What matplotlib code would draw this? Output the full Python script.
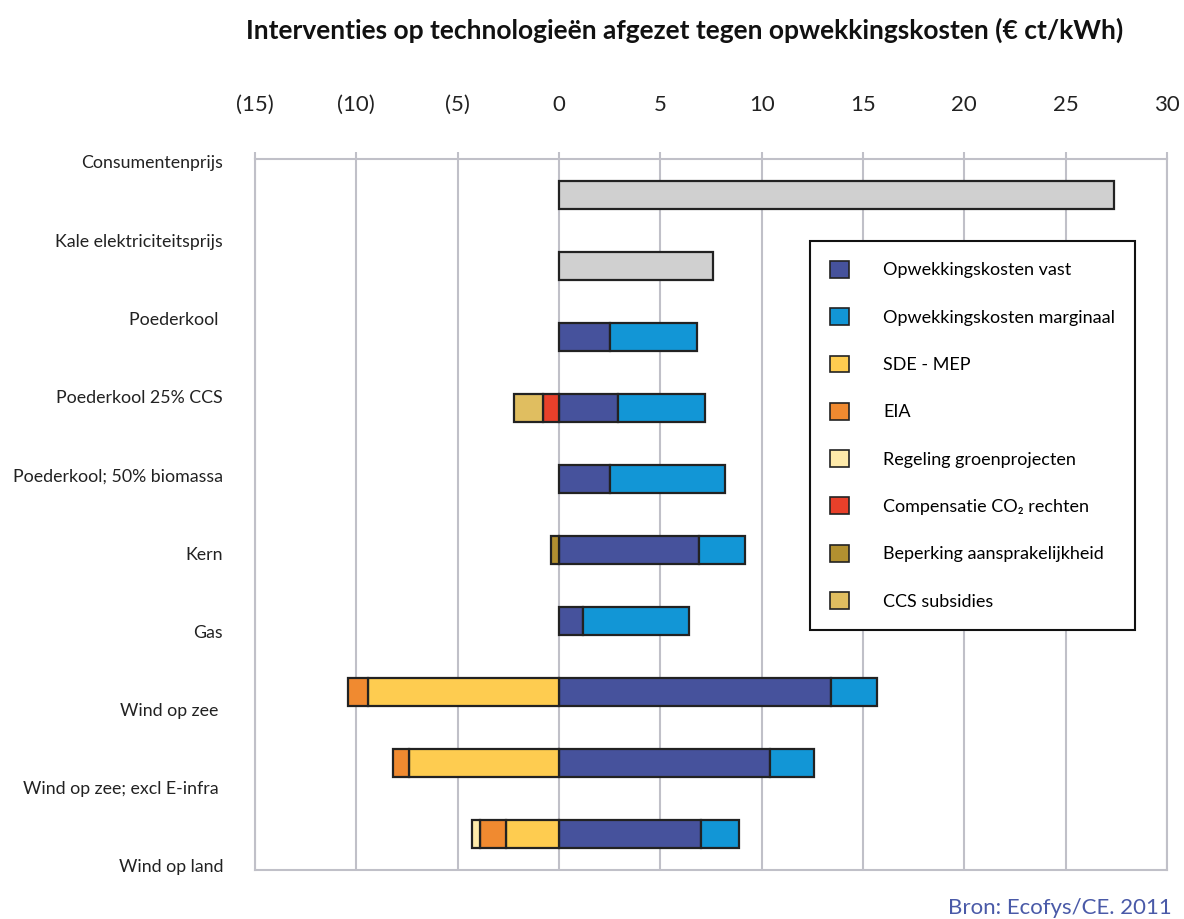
import matplotlib.pyplot as plt
from matplotlib.patches import Patch
import numpy as np

plt.rcParams['font.family'] = ['Lato', 'DejaVu Sans']

categories = ['Consumentenprijs', 'Kale elektriciteitsprijs', 'Poederkool ',
              'Poederkool 25% CCS', 'Poederkool; 50% biomassa', 'Kern', 'Gas',
              'Wind op zee ', 'Wind op zee; excl E-infra ', 'Wind op land']

prijs = [27.4, 7.6, 0, 0, 0, 0, 0, 0, 0, 0]
vast = [0, 0, 2.5, 2.9, 2.5, 6.9, 1.2, 13.4, 10.4, 7.0]
marginaal = [0, 0, 4.3, 4.3, 5.7, 2.3, 5.2, 2.3, 2.2, 1.9]

# negative side, magnitudes (stacked leftwards from 0)
sde = [0, 0, 0, 0, 0, 0, 0, 9.4, 7.4, 2.6]
eia = [0, 0, 0, 0, 0, 0, 0, 1.0, 0.8, 1.3]
groen = [0, 0, 0, 0, 0, 0, 0, 0, 0, 0.4]
co2 = [0, 0, 0, 0.8, 0, 0, 0, 0, 0, 0]
beperking = [0, 0, 0, 0, 0, 0.4, 0, 0, 0, 0]
ccs = [0, 0, 0, 1.4, 0, 0, 0, 0, 0, 0]

ticks = [-15, -10, -5, 0, 5, 10, 15, 20, 25, 30]
ticklabels = ['(15)', '(10)', '(5)', '0', '5', '10', '15', '20', '25', '30']

c_prijs = '#d0d0d0'
c_vast = '#46529c'
c_marg = '#1296d6'
c_sde = '#fecc50'
c_eia = '#f08a30'
c_groen = '#feeaaa'
c_co2 = '#e8402a'
c_bep = '#b29030'
c_ccs = '#e0be60'
edge = '#222222'

fig = plt.figure(figsize=(11.84, 9.19), dpi=100)
ax = fig.add_axes([255 / 1184, 49 / 919, 912 / 1184, 711 / 919])

y = np.arange(len(categories))
h = 0.39


def draw(left, width, color):
    for yi, l, w in zip(y, left, width):
        if w != 0:
            ax.barh(yi, w, left=l, height=h, color=color, edgecolor=edge,
                    linewidth=1.6, zorder=3)


draw([0] * 10, prijs, c_prijs)
draw([0] * 10, vast, c_vast)
draw(vast, marginaal, c_marg)

neg = np.zeros(len(categories))
for vals, col in [(sde, c_sde), (eia, c_eia), (groen, c_groen),
                  (co2, c_co2), (beperking, c_bep), (ccs, c_ccs)]:
    vals = np.array(vals)
    draw(-neg - vals, vals, col)
    neg = neg + vals

ax.set_xlim(-15, 30)
ax.set_ylim(9.507, -0.507)
ax.xaxis.tick_top()
ax.set_xticks(ticks)
ax.set_xticklabels(ticklabels, fontsize=16, color='#222222')
ax.tick_params(axis='x', length=5, color='#c0c0c8', width=1.5, pad=27)
ax.grid(axis='x', color='#c0c0c8', linewidth=1.5, zorder=0)

label_pos = [-0.465 + 1.1017 * i for i in range(len(categories))]
ax.set_yticks(label_pos)
ax.set_yticklabels(categories, fontsize=12.8, color='#222222')
ax.tick_params(axis='y', length=0, pad=23)

for s in ax.spines.values():
    s.set_color('#c0c0c8')
    s.set_linewidth(1.5)

handles = [Patch(facecolor=c, edgecolor=edge, linewidth=1.2) for c in
           [c_vast, c_marg, c_sde, c_eia, c_groen, c_co2, c_bep, c_ccs]]
names = ['Opwekkingskosten vast', 'Opwekkingskosten marginaal', 'SDE - MEP', 'EIA',
         'Regeling groenprojecten', 'Compensatie CO\u2082 rechten',
         'Beperking aansprakelijkheid', 'CCS subsidies']
leg = ax.legend(handles, names, loc='upper left',
                bbox_to_anchor=(810 / 1184, 1 - 241 / 919),
                bbox_transform=fig.transFigure, borderaxespad=0,
                fontsize=13, handlelength=1.05, handleheight=1.05,
                labelspacing=1.65, handletextpad=1.9, borderpad=1.1,
                fancybox=False, framealpha=1, edgecolor='#111111')
leg.get_frame().set_linewidth(1.5)
leg.set_zorder(5)

fig.text(685 / 1184, 1 - 30 / 919,
         'Interventies op technologieën afgezet tegen opwekkingskosten (€ ct/kWh)',
         ha='center', va='center', fontsize=19, fontweight='bold', color='#111111')
fig.text(1172 / 1184, 1 - 908 / 919, 'Bron: Ecofys/CE. 2011', ha='right',
         va='center', fontsize=16, color='#4a5aa8')

fig.savefig('out.png', dpi=100)
